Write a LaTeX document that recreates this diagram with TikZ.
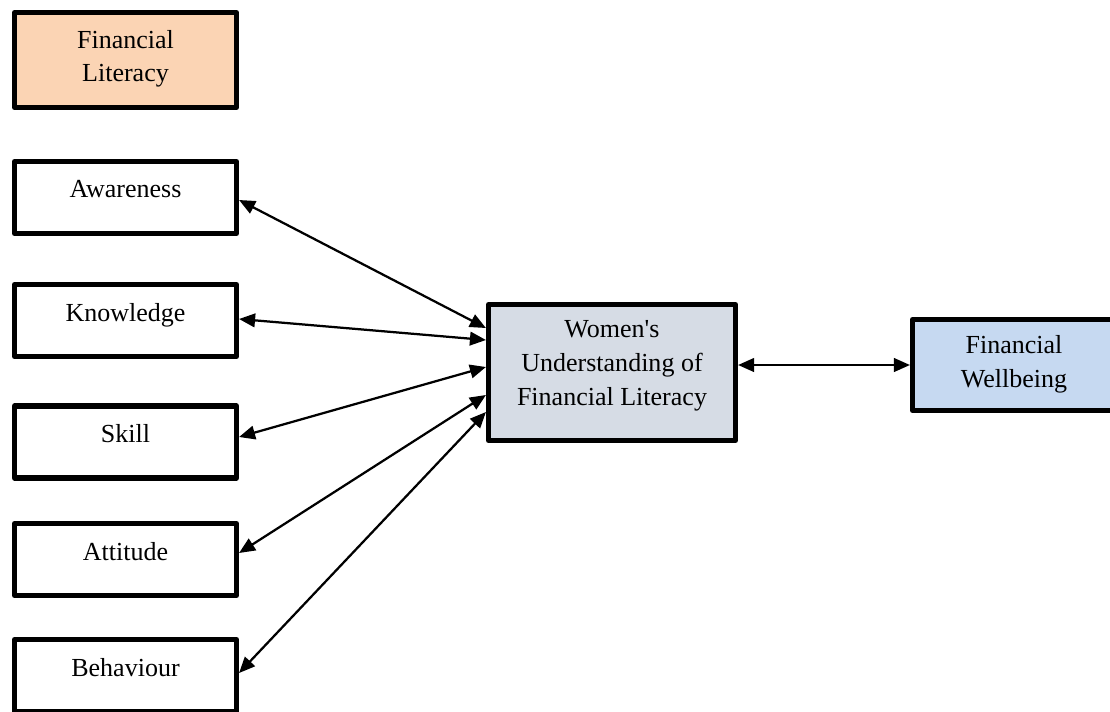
\documentclass[tikz,border=0pt]{standalone}
\usepackage{fontspec}
\setmainfont{Liberation Serif}
\usetikzlibrary{arrows.meta}
\definecolor{peach}{HTML}{FBD4B4}
\definecolor{greyblue}{HTML}{D6DCE5}
\definecolor{paleblue}{HTML}{C6D9F1}
\tikzset{
  box/.style={draw, line width=3.6pt, line join=round, minimum width=5.55cm, minimum height=1.8cm,
    align=center, text depth=0.42cm, font=\fontsize{18.5pt}{24pt}\selectfont},
  link/.style={<->, line width=1.6pt, >={Triangle[length=0.4cm,width=0.34cm]}}
}
\begin{document}
\begin{tikzpicture}[x=0.025cm,y=-0.025cm]
\useasboundingbox (0,0) rectangle (1110,711);
% dimensions
\node[box,fill=peach,minimum height=2.375cm,text depth=0.2cm] (fl) at (125.5,60) {Financial\\Literacy};
\node[box] (aw) at (125.5,197.5) {Awareness};
\node[box] (kn) at (125.5,320.5) {Knowledge};
\node[box] (sk) at (125.5,442) {Skill};
\node[box] (at) at (125.5,559.5) {Attitude};
\node[box] (be) at (125.5,675.5) {Behaviour};
% centre and outcome
\node[box,fill=greyblue,minimum width=6.175cm,minimum height=3.4cm,text depth=0.48cm] (wu) at (612,372.5)
  {Women\textquotesingle s\\Understanding of\\Financial Literacy};
\node[box,fill=paleblue,minimum width=5.075cm,minimum height=2.275cm,text depth=0.17cm] (fw) at (1014,365)
  {Financial\\Wellbeing};
\foreach \n/\a/\b in {aw/-2.5/44.5, kn/1.5/32.5, sk/5/5.5, at/6.5/-22.5, be/2.5/-39.5}
  \draw[link] ([yshift=\a*0.025cm]\n.east) -- ([yshift=\b*0.025cm]wu.west);
\draw[link] (wu.east |- fw.west) -- (fw.west);
\end{tikzpicture}
\end{document}
